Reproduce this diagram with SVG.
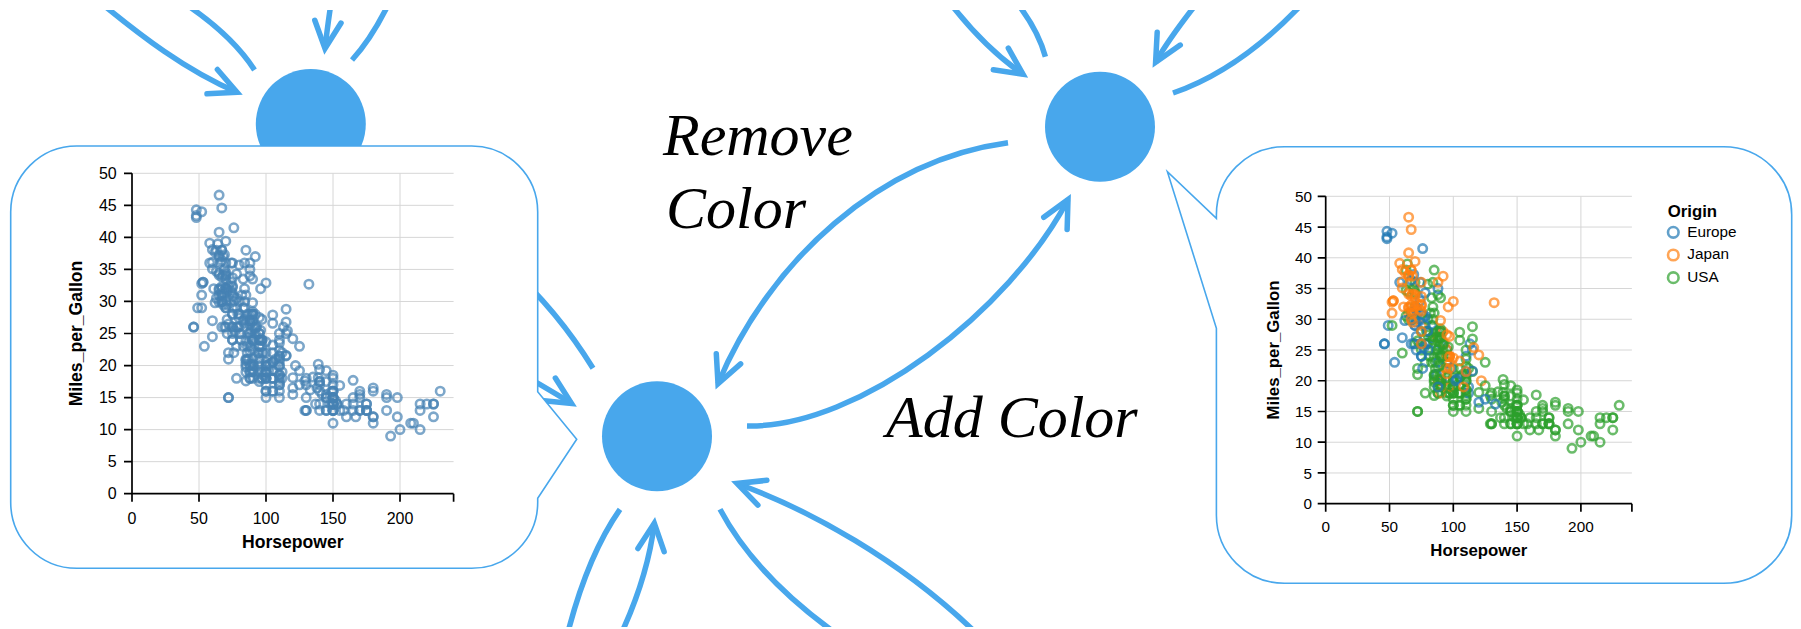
<svg xmlns="http://www.w3.org/2000/svg" width="1801" height="629" viewBox="0 0 1801 629">
<style>
.conn{fill:none;stroke:#48a7ec;stroke-width:5.5}
.arr{marker-end:url(#ah)}
.node{fill:#48a7ec}
.bubble{fill:#fff;stroke:#48a7ec;stroke-width:1.6}
.grid{fill:none;stroke:#d6d6d6;stroke-width:1}
.axis{fill:none;stroke:#000;stroke-width:1.7}
.lbl{font-family:"Liberation Sans",Arial,sans-serif;font-size:16px;fill:#000}
.lbl2{font-family:"Liberation Sans",Arial,sans-serif;font-size:15.3px;fill:#000}
.ttl{font-family:"Liberation Sans",Arial,sans-serif;font-size:17.6px;font-weight:bold;fill:#000}
.ttl2{font-family:"Liberation Sans",Arial,sans-serif;font-size:16.8px;font-weight:bold;fill:#000}
.big{font-family:"Liberation Serif","Times New Roman",serif;font-style:italic;font-size:60px;fill:#000}
.pts{fill:none;stroke-width:2.6;stroke-opacity:.7}
</style>
<defs>
<marker id="ah" markerUnits="userSpaceOnUse" orient="auto" overflow="visible" markerWidth="1" markerHeight="1" refX="0" refY="0">
<path d="M-27,-13.2 L0,0 L-27,13.2" fill="none" stroke="#48a7ec" stroke-width="5.5" stroke-linecap="round" stroke-linejoin="miter"/>
</marker>
<clipPath id="clipv"><rect x="0" y="10" width="1801" height="617"/></clipPath>
<g id="eua">
<circle cx="46%" cy="-26%" r="4.2"/><circle cx="87%" cy="-25%" r="4.2"/><circle cx="90%" cy="-24%" r="4.2"/><circle cx="95%" cy="-25%" r="4.2"/><circle cx="113%" cy="-26%" r="4.2"/><circle cx="90%" cy="-28%" r="4.2"/><circle cx="70%" cy="-30%" r="4.2"/><circle cx="76%" cy="-30%" r="4.2"/><circle cx="60%" cy="-27%" r="4.2"/><circle cx="54%" cy="-23%" r="4.2"/><circle cx="112%" cy="-18%" r="4.2"/><circle cx="76%" cy="-22%" r="4.2"/><circle cx="87%" cy="-21%" r="4.2"/><circle cx="69%" cy="-26%" r="4.2"/><circle cx="46%" cy="-26%" r="4.2"/><circle cx="90%" cy="-26%" r="4.2"/><circle cx="49%" cy="-29%" r="4.2"/><circle cx="75%" cy="-24%" r="4.2"/><circle cx="91%" cy="-20%" r="4.2"/><circle cx="112%" cy="-19%" r="4.2"/><circle cx="110%" cy="-24%" r="4.2"/><circle cx="83%" cy="-29%" r="4.2"/><circle cx="67%" cy="-26%" r="4.2"/><circle cx="78%" cy="-26%" r="4.2"/><circle cx="75%" cy="-24%" r="4.2"/><circle cx="75%" cy="-26%" r="4.2"/><circle cx="67%" cy="-31%" r="4.2"/><circle cx="71%" cy="-25%" r="4.2"/><circle cx="70%" cy="-29%" r="4.2"/><circle cx="95%" cy="-23%" r="4.2"/><circle cx="88%" cy="-23%" r="4.2"/><circle cx="98%" cy="-22%" r="4.2"/><circle cx="115%" cy="-25%" r="4.2"/><circle cx="86%" cy="-28%" r="4.2"/><circle cx="81%" cy="-25%" r="4.2"/><circle cx="83%" cy="-27%" r="4.2"/>
</g>
<g id="eub">
<circle cx="70%" cy="-29%" r="4.2"/><circle cx="71%" cy="-29.5%" r="4.2"/><circle cx="102%" cy="-20%" r="4.2"/><circle cx="88%" cy="-19%" r="4.2"/><circle cx="120%" cy="-16.5%" r="4.2"/><circle cx="58%" cy="-36%" r="4.2"/><circle cx="78%" cy="-29%" r="4.2"/><circle cx="78%" cy="-30.5%" r="4.2"/><circle cx="110%" cy="-21.5%" r="4.2"/><circle cx="48%" cy="-43.1%" r="4.2"/><circle cx="103%" cy="-20.3%" r="4.2"/><circle cx="125%" cy="-17%" r="4.2"/><circle cx="115%" cy="-21.6%" r="4.2"/><circle cx="133%" cy="-16.2%" r="4.2"/><circle cx="71%" cy="-31.5%" r="4.2"/><circle cx="71%" cy="-31.9%" r="4.2"/><circle cx="77%" cy="-25.4%" r="4.2"/><circle cx="71%" cy="-27.2%" r="4.2"/><circle cx="69%" cy="-37.3%" r="4.2"/><circle cx="76%" cy="-41.5%" r="4.2"/><circle cx="78%" cy="-34.3%" r="4.2"/><circle cx="48%" cy="-44.3%" r="4.2"/><circle cx="48%" cy="-43.4%" r="4.2"/><circle cx="67%" cy="-36.4%" r="4.2"/><circle cx="67%" cy="-30%" r="4.2"/><circle cx="62%" cy="-29.8%" r="4.2"/><circle cx="88%" cy="-35%" r="4.2"/><circle cx="74%" cy="-33%" r="4.2"/><circle cx="80%" cy="-28.1%" r="4.2"/><circle cx="76%" cy="-30.7%" r="4.2"/><circle cx="74%" cy="-36%" r="4.2"/><circle cx="52%" cy="-44%" r="4.2"/>
</g>
<g id="jpa">
<circle cx="95%" cy="-24%" r="4.2"/><circle cx="88%" cy="-27%" r="4.2"/><circle cx="88%" cy="-27%" r="4.2"/><circle cx="95%" cy="-25%" r="4.2"/><circle cx="65%" cy="-31%" r="4.2"/><circle cx="69%" cy="-35%" r="4.2"/><circle cx="95%" cy="-24%" r="4.2"/><circle cx="97%" cy="-19%" r="4.2"/><circle cx="92%" cy="-28%" r="4.2"/><circle cx="97%" cy="-23%" r="4.2"/><circle cx="88%" cy="-27%" r="4.2"/><circle cx="88%" cy="-20%" r="4.2"/><circle cx="94%" cy="-22%" r="4.2"/><circle cx="90%" cy="-18%" r="4.2"/><circle cx="122%" cy="-20%" r="4.2"/><circle cx="67%" cy="-31%" r="4.2"/><circle cx="65%" cy="-32%" r="4.2"/><circle cx="52%" cy="-31%" r="4.2"/><circle cx="61%" cy="-32%" r="4.2"/><circle cx="97%" cy="-24%" r="4.2"/><circle cx="93%" cy="-26%" r="4.2"/><circle cx="75%" cy="-29%" r="4.2"/><circle cx="96%" cy="-24%" r="4.2"/><circle cx="97%" cy="-24%" r="4.2"/><circle cx="53%" cy="-33%" r="4.2"/>
</g>
<g id="jpb">
<circle cx="53%" cy="-33%" r="4.2"/><circle cx="70%" cy="-32%" r="4.2"/><circle cx="75%" cy="-28%" r="4.2"/><circle cx="108%" cy="-19%" r="4.2"/><circle cx="68%" cy="-31.5%" r="4.2"/><circle cx="70%" cy="-33.5%" r="4.2"/><circle cx="75%" cy="-26%" r="4.2"/><circle cx="67%" cy="-30%" r="4.2"/><circle cx="97%" cy="-22%" r="4.2"/><circle cx="110%" cy="-21.5%" r="4.2"/><circle cx="52%" cy="-32.8%" r="4.2"/><circle cx="70%" cy="-39.4%" r="4.2"/><circle cx="60%" cy="-36.1%" r="4.2"/><circle cx="95%" cy="-27.5%" r="4.2"/><circle cx="97%" cy="-27.2%" r="4.2"/><circle cx="95%" cy="-21.1%" r="4.2"/><circle cx="105%" cy="-23.2%" r="4.2"/><circle cx="97%" cy="-23.9%" r="4.2"/><circle cx="68%" cy="-29.5%" r="4.2"/><circle cx="65%" cy="-34.1%" r="4.2"/><circle cx="65%" cy="-31.8%" r="4.2"/><circle cx="60%" cy="-38.1%" r="4.2"/><circle cx="65%" cy="-37.2%" r="4.2"/><circle cx="90%" cy="-29.8%" r="4.2"/><circle cx="75%" cy="-31.3%" r="4.2"/><circle cx="92%" cy="-37%" r="4.2"/><circle cx="75%" cy="-32.2%" r="4.2"/><circle cx="65%" cy="-46.6%" r="4.2"/><circle cx="65%" cy="-40.8%" r="4.2"/><circle cx="67%" cy="-44.6%" r="4.2"/><circle cx="67%" cy="-33.8%" r="4.2"/><circle cx="132%" cy="-32.7%" r="4.2"/><circle cx="100%" cy="-23.7%" r="4.2"/><circle cx="72%" cy="-32.4%" r="4.2"/><circle cx="58%" cy="-39.1%" r="4.2"/><circle cx="60%" cy="-35.1%" r="4.2"/><circle cx="67%" cy="-32.3%" r="4.2"/><circle cx="65%" cy="-37%" r="4.2"/><circle cx="62%" cy="-37.7%" r="4.2"/><circle cx="68%" cy="-34.1%" r="4.2"/><circle cx="75%" cy="-33.7%" r="4.2"/><circle cx="75%" cy="-32.4%" r="4.2"/><circle cx="100%" cy="-32.9%" r="4.2"/><circle cx="74%" cy="-31.6%" r="4.2"/><circle cx="116%" cy="-25.4%" r="4.2"/><circle cx="120%" cy="-24.2%" r="4.2"/><circle cx="68%" cy="-37%" r="4.2"/><circle cx="68%" cy="-31%" r="4.2"/><circle cx="88%" cy="-36%" r="4.2"/><circle cx="75%" cy="-36%" r="4.2"/><circle cx="70%" cy="-34%" r="4.2"/><circle cx="67%" cy="-38%" r="4.2"/><circle cx="67%" cy="-32%" r="4.2"/><circle cx="67%" cy="-38%" r="4.2"/><circle cx="96%" cy="-32%" r="4.2"/>
</g>
<g id="usa">
<circle cx="130%" cy="-18%" r="4.2"/><circle cx="165%" cy="-15%" r="4.2"/><circle cx="150%" cy="-18%" r="4.2"/><circle cx="150%" cy="-16%" r="4.2"/><circle cx="140%" cy="-17%" r="4.2"/><circle cx="198%" cy="-15%" r="4.2"/><circle cx="220%" cy="-14%" r="4.2"/><circle cx="215%" cy="-14%" r="4.2"/><circle cx="225%" cy="-14%" r="4.2"/><circle cx="190%" cy="-15%" r="4.2"/><circle cx="170%" cy="-15%" r="4.2"/><circle cx="160%" cy="-14%" r="4.2"/><circle cx="150%" cy="-15%" r="4.2"/><circle cx="225%" cy="-14%" r="4.2"/><circle cx="95%" cy="-22%" r="4.2"/><circle cx="97%" cy="-18%" r="4.2"/><circle cx="85%" cy="-21%" r="4.2"/><circle cx="90%" cy="-21%" r="4.2"/><circle cx="215%" cy="-10%" r="4.2"/><circle cx="200%" cy="-10%" r="4.2"/><circle cx="210%" cy="-11%" r="4.2"/><circle cx="193%" cy="-9%" r="4.2"/><circle cx="90%" cy="-28%" r="4.2"/><circle cx="100%" cy="-19%" r="4.2"/><circle cx="105%" cy="-16%" r="4.2"/><circle cx="100%" cy="-17%" r="4.2"/><circle cx="88%" cy="-19%" r="4.2"/><circle cx="100%" cy="-18%" r="4.2"/><circle cx="165%" cy="-14%" r="4.2"/><circle cx="175%" cy="-14%" r="4.2"/><circle cx="153%" cy="-14%" r="4.2"/><circle cx="150%" cy="-14%" r="4.2"/><circle cx="180%" cy="-12%" r="4.2"/><circle cx="170%" cy="-13%" r="4.2"/><circle cx="175%" cy="-13%" r="4.2"/><circle cx="110%" cy="-18%" r="4.2"/><circle cx="72%" cy="-22%" r="4.2"/><circle cx="100%" cy="-19%" r="4.2"/><circle cx="88%" cy="-18%" r="4.2"/><circle cx="86%" cy="-23%" r="4.2"/><circle cx="70%" cy="-26%" r="4.2"/><circle cx="80%" cy="-25%" r="4.2"/><circle cx="90%" cy="-20%" r="4.2"/><circle cx="86%" cy="-21%" r="4.2"/><circle cx="165%" cy="-13%" r="4.2"/><circle cx="175%" cy="-14%" r="4.2"/><circle cx="150%" cy="-15%" r="4.2"/><circle cx="153%" cy="-14%" r="4.2"/><circle cx="150%" cy="-17%" r="4.2"/><circle cx="208%" cy="-11%" r="4.2"/><circle cx="155%" cy="-13%" r="4.2"/><circle cx="160%" cy="-12%" r="4.2"/><circle cx="190%" cy="-13%" r="4.2"/><circle cx="150%" cy="-15%" r="4.2"/><circle cx="130%" cy="-13%" r="4.2"/><circle cx="140%" cy="-13%" r="4.2"/><circle cx="150%" cy="-14%" r="4.2"/><circle cx="86%" cy="-22%" r="4.2"/><circle cx="80%" cy="-28%" r="4.2"/><circle cx="175%" cy="-13%" r="4.2"/><circle cx="150%" cy="-14%" r="4.2"/><circle cx="145%" cy="-13%" r="4.2"/><circle cx="137%" cy="-14%" r="4.2"/><circle cx="150%" cy="-15%" r="4.2"/><circle cx="198%" cy="-12%" r="4.2"/><circle cx="150%" cy="-13%" r="4.2"/><circle cx="158%" cy="-13%" r="4.2"/><circle cx="150%" cy="-14%" r="4.2"/><circle cx="215%" cy="-13%" r="4.2"/><circle cx="225%" cy="-12%" r="4.2"/><circle cx="175%" cy="-13%" r="4.2"/><circle cx="105%" cy="-18%" r="4.2"/><circle cx="100%" cy="-16%" r="4.2"/><circle cx="100%" cy="-18%" r="4.2"/><circle cx="88%" cy="-18%" r="4.2"/><circle cx="95%" cy="-23%" r="4.2"/><circle cx="150%" cy="-11%" r="4.2"/><circle cx="167%" cy="-12%" r="4.2"/><circle cx="170%" cy="-13%" r="4.2"/><circle cx="180%" cy="-12%" r="4.2"/><circle cx="100%" cy="-18%" r="4.2"/><circle cx="72%" cy="-21%" r="4.2"/><circle cx="85%" cy="-19%" r="4.2"/><circle cx="107%" cy="-21%" r="4.2"/><circle cx="145%" cy="-15%" r="4.2"/><circle cx="230%" cy="-16%" r="4.2"/><circle cx="150%" cy="-15%" r="4.2"/><circle cx="180%" cy="-11%" r="4.2"/><circle cx="95%" cy="-20%" r="4.2"/><circle cx="100%" cy="-19%" r="4.2"/><circle cx="100%" cy="-15%" r="4.2"/><circle cx="80%" cy="-26%" r="4.2"/><circle cx="75%" cy="-25%" r="4.2"/><circle cx="100%" cy="-16%" r="4.2"/><circle cx="110%" cy="-16%" r="4.2"/><circle cx="105%" cy="-18%" r="4.2"/><circle cx="140%" cy="-16%" r="4.2"/><circle cx="150%" cy="-13%" r="4.2"/><circle cx="150%" cy="-14%" r="4.2"/><circle cx="140%" cy="-14%" r="4.2"/><circle cx="150%" cy="-14%" r="4.2"/><circle cx="75%" cy="-28%" r="4.2"/><circle cx="95%" cy="-19%" r="4.2"/><circle cx="105%" cy="-18%" r="4.2"/><circle cx="72%" cy="-15%" r="4.2"/><circle cx="72%" cy="-15%" r="4.2"/><circle cx="170%" cy="-16%" r="4.2"/><circle cx="145%" cy="-15%" r="4.2"/><circle cx="150%" cy="-16%" r="4.2"/><circle cx="148%" cy="-14%" r="4.2"/><circle cx="110%" cy="-17%" r="4.2"/><circle cx="105%" cy="-16%" r="4.2"/><circle cx="110%" cy="-15%" r="4.2"/><circle cx="95%" cy="-18%" r="4.2"/><circle cx="110%" cy="-21%" r="4.2"/><circle cx="110%" cy="-20%" r="4.2"/><circle cx="129%" cy="-13%" r="4.2"/><circle cx="83%" cy="-23%" r="4.2"/><circle cx="100%" cy="-20%" r="4.2"/><circle cx="78%" cy="-23%" r="4.2"/><circle cx="97%" cy="-18%" r="4.2"/><circle cx="90%" cy="-19%" r="4.2"/><circle cx="92%" cy="-25%" r="4.2"/><circle cx="79%" cy="-26%" r="4.2"/><circle cx="140%" cy="-17.5%" r="4.2"/><circle cx="150%" cy="-16%" r="4.2"/><circle cx="120%" cy="-15.5%" r="4.2"/><circle cx="152%" cy="-14.5%" r="4.2"/><circle cx="100%" cy="-22%" r="4.2"/><circle cx="105%" cy="-22%" r="4.2"/><circle cx="81%" cy="-24%" r="4.2"/>
</g>
<g id="usb">
<circle cx="90%" cy="-22.5%" r="4.2"/><circle cx="52%" cy="-29%" r="4.2"/><circle cx="60%" cy="-24.5%" r="4.2"/><circle cx="100%" cy="-20%" r="4.2"/><circle cx="78%" cy="-18%" r="4.2"/><circle cx="110%" cy="-18.5%" r="4.2"/><circle cx="95%" cy="-17.5%" r="4.2"/><circle cx="72%" cy="-26.5%" r="4.2"/><circle cx="150%" cy="-13%" r="4.2"/><circle cx="180%" cy="-16.5%" r="4.2"/><circle cx="145%" cy="-13%" r="4.2"/><circle cx="130%" cy="-13%" r="4.2"/><circle cx="150%" cy="-13%" r="4.2"/><circle cx="80%" cy="-30%" r="4.2"/><circle cx="96%" cy="-25.5%" r="4.2"/><circle cx="145%" cy="-17.5%" r="4.2"/><circle cx="110%" cy="-17%" r="4.2"/><circle cx="145%" cy="-15.5%" r="4.2"/><circle cx="130%" cy="-15%" r="4.2"/><circle cx="110%" cy="-17.5%" r="4.2"/><circle cx="105%" cy="-20.5%" r="4.2"/><circle cx="100%" cy="-19%" r="4.2"/><circle cx="98%" cy="-18.5%" r="4.2"/><circle cx="180%" cy="-16%" r="4.2"/><circle cx="170%" cy="-15.5%" r="4.2"/><circle cx="190%" cy="-15.5%" r="4.2"/><circle cx="149%" cy="-16%" r="4.2"/><circle cx="88%" cy="-24.5%" r="4.2"/><circle cx="89%" cy="-25.5%" r="4.2"/><circle cx="63%" cy="-30.5%" r="4.2"/><circle cx="83%" cy="-33.5%" r="4.2"/><circle cx="66%" cy="-36.1%" r="4.2"/><circle cx="110%" cy="-19.9%" r="4.2"/><circle cx="140%" cy="-19.4%" r="4.2"/><circle cx="139%" cy="-20.2%" r="4.2"/><circle cx="105%" cy="-19.2%" r="4.2"/><circle cx="95%" cy="-20.5%" r="4.2"/><circle cx="85%" cy="-20.2%" r="4.2"/><circle cx="88%" cy="-25.1%" r="4.2"/><circle cx="100%" cy="-20.5%" r="4.2"/><circle cx="90%" cy="-19.4%" r="4.2"/><circle cx="105%" cy="-20.6%" r="4.2"/><circle cx="85%" cy="-20.8%" r="4.2"/><circle cx="110%" cy="-18.6%" r="4.2"/><circle cx="120%" cy="-18.1%" r="4.2"/><circle cx="145%" cy="-19.2%" r="4.2"/><circle cx="165%" cy="-17.7%" r="4.2"/><circle cx="139%" cy="-18.1%" r="4.2"/><circle cx="140%" cy="-17.5%" r="4.2"/><circle cx="68%" cy="-30%" r="4.2"/><circle cx="75%" cy="-30.9%" r="4.2"/><circle cx="85%" cy="-23.8%" r="4.2"/><circle cx="115%" cy="-21.5%" r="4.2"/><circle cx="85%" cy="-19.8%" r="4.2"/><circle cx="88%" cy="-22.3%" r="4.2"/><circle cx="90%" cy="-20.2%" r="4.2"/><circle cx="110%" cy="-20.6%" r="4.2"/><circle cx="130%" cy="-17%" r="4.2"/><circle cx="129%" cy="-17.6%" r="4.2"/><circle cx="138%" cy="-16.5%" r="4.2"/><circle cx="135%" cy="-18.2%" r="4.2"/><circle cx="155%" cy="-16.9%" r="4.2"/><circle cx="142%" cy="-15.5%" r="4.2"/><circle cx="125%" cy="-19.2%" r="4.2"/><circle cx="150%" cy="-18.5%" r="4.2"/><circle cx="80%" cy="-35.7%" r="4.2"/><circle cx="80%" cy="-27.4%" r="4.2"/><circle cx="125%" cy="-23%" r="4.2"/><circle cx="90%" cy="-23.9%" r="4.2"/><circle cx="70%" cy="-34.2%" r="4.2"/><circle cx="70%" cy="-34.5%" r="4.2"/><circle cx="90%" cy="-28.4%" r="4.2"/><circle cx="115%" cy="-28.8%" r="4.2"/><circle cx="115%" cy="-26.8%" r="4.2"/><circle cx="90%" cy="-33.5%" r="4.2"/><circle cx="70%" cy="-32.1%" r="4.2"/><circle cx="90%" cy="-28%" r="4.2"/><circle cx="88%" cy="-26.4%" r="4.2"/><circle cx="90%" cy="-24.3%" r="4.2"/><circle cx="90%" cy="-19.1%" r="4.2"/><circle cx="105%" cy="-27.9%" r="4.2"/><circle cx="84%" cy="-27.2%" r="4.2"/><circle cx="84%" cy="-26.6%" r="4.2"/><circle cx="92%" cy="-25.8%" r="4.2"/><circle cx="110%" cy="-23.5%" r="4.2"/><circle cx="84%" cy="-30%" r="4.2"/><circle cx="64%" cy="-39%" r="4.2"/><circle cx="63%" cy="-34.7%" r="4.2"/><circle cx="65%" cy="-34.4%" r="4.2"/><circle cx="65%" cy="-29.9%" r="4.2"/><circle cx="110%" cy="-22.4%" r="4.2"/><circle cx="105%" cy="-26.6%" r="4.2"/><circle cx="88%" cy="-20.2%" r="4.2"/><circle cx="85%" cy="-17.6%" r="4.2"/><circle cx="88%" cy="-28%" r="4.2"/><circle cx="88%" cy="-27%" r="4.2"/><circle cx="88%" cy="-34%" r="4.2"/><circle cx="85%" cy="-31%" r="4.2"/><circle cx="84%" cy="-29%" r="4.2"/><circle cx="90%" cy="-27%" r="4.2"/><circle cx="92%" cy="-24%" r="4.2"/><circle cx="63%" cy="-38%" r="4.2"/><circle cx="70%" cy="-36%" r="4.2"/><circle cx="110%" cy="-25%" r="4.2"/><circle cx="85%" cy="-38%" r="4.2"/><circle cx="92%" cy="-26%" r="4.2"/><circle cx="112%" cy="-22%" r="4.2"/><circle cx="84%" cy="-36%" r="4.2"/><circle cx="90%" cy="-27%" r="4.2"/><circle cx="86%" cy="-27%" r="4.2"/><circle cx="84%" cy="-32%" r="4.2"/><circle cx="79%" cy="-28%" r="4.2"/><circle cx="82%" cy="-31%" r="4.2"/>
</g>
</defs>

<g id="connectors" clip-path="url(#clipv)">
<path class="conn arr" d="M101,3 C140,35 185,70 237,92.3"/>
<path class="conn" d="M184,3 Q232,35 254.5,70"/>
<path class="conn arr" d="M331,3 Q327,30 325,48.5"/>
<path class="conn" d="M389,3 Q372,38 352,60"/>
<path class="conn" d="M470,235 Q545,290 593,368.3"/>
<path class="conn arr" d="M470,345 Q530,378 571.5,403.4"/>
<path class="conn" d="M568,632 Q588,555 620,509.3"/>
<path class="conn arr" d="M622,632 Q648,575 654.3,523.3"/>
<path class="conn" d="M720,509.3 Q755,575 834,632"/>
<path class="conn arr" d="M975,632 C900,560 810,510 737,483.5"/>
<path class="conn arr" d="M1008,142.7 C880,160 770,260 718,383.7"/>
<path class="conn arr" d="M747,426 C860,428 1010,310 1068,199.5"/>
<path class="conn arr" d="M950,3 Q985,48 1023,74.3"/>
<path class="conn" d="M1017,3 Q1038,30 1045.4,56.7"/>
<path class="conn arr" d="M1197,3 Q1168,40 1155.6,62.3"/>
<path class="conn" d="M1303,3 Q1240,70 1173,93"/>
</g>

<g id="node-top-left"><circle class="node" cx="310.8" cy="124" r="55"/></g>
<g id="node-right"><circle class="node" cx="1100" cy="126.8" r="55"/></g>
<g id="node-bottom"><circle class="node" cx="657" cy="436.3" r="55"/></g>

<g id="label-remove-color">
<text class="big" x="663" y="155">Remove</text>
<text class="big" x="666" y="228.3">Color</text>
</g>
<g id="label-add-color"><text class="big" x="886" y="436.7">Add Color</text></g>

<g id="callout-left">
<path class="bubble" d="M76.7,146 H471.7 A66,66 0 0 1 537.7,212 V391.7 L576.7,439.3 L537.7,498.3 V502.3 A66,66 0 0 1 471.7,568.3 H76.7 A66,66 0 0 1 10.7,502.3 V212 A66,66 0 0 1 76.7,146 Z"/>
<g transform="translate(132,493.7)">
<path class="grid" d="M0,-32.04H321.6M0,-64.08H321.6M0,-96.12H321.6M0,-128.16H321.6M0,-160.2H321.6M0,-192.24H321.6M0,-224.28H321.6M0,-256.32H321.6M0,-288.36H321.6M0,-320.4H321.6M67,0V-320.4M134,0V-320.4M201,0V-320.4M268,0V-320.4"/>
<svg x="0" y="0" width="134" height="640.8" overflow="visible">
<g class="pts" stroke="#4682b4"><use href="#usa"/><use href="#eua"/><use href="#jpa"/><use href="#usb"/><use href="#eub"/><use href="#jpb"/></g>
</svg>
<path class="axis" d="M0,-320.4V0H321.6M-8,0H0M-8,-32.04H0M-8,-64.08H0M-8,-96.12H0M-8,-128.16H0M-8,-160.2H0M-8,-192.24H0M-8,-224.28H0M-8,-256.32H0M-8,-288.36H0M-8,-320.4H0M0,0V8M67,0V8M134,0V8M201,0V8M268,0V8M321.6,0V8"/>
<g class="lbl" text-anchor="end">
<text x="-15.3" y="5.7">0</text><text x="-15.3" y="-26.3">5</text><text x="-15.3" y="-58.4">10</text><text x="-15.3" y="-90.4">15</text><text x="-15.3" y="-122.5">20</text><text x="-15.3" y="-154.5">25</text><text x="-15.3" y="-186.5">30</text><text x="-15.3" y="-218.6">35</text><text x="-15.3" y="-250.6">40</text><text x="-15.3" y="-282.7">45</text><text x="-15.3" y="-314.7">50</text>
</g>
<g class="lbl" text-anchor="middle">
<text x="0" y="30">0</text><text x="67" y="30">50</text><text x="134" y="30">100</text><text x="201" y="30">150</text><text x="268" y="30">200</text>
</g>
<text class="ttl" text-anchor="middle" x="160.8" y="54.6">Horsepower</text>
<text class="ttl" text-anchor="middle" transform="translate(-49.7,-160.2) rotate(-90)">Miles_per_Gallon</text>
</g>
</g>

<g id="callout-right">
<path class="bubble" d="M1284.4,146.7 H1723.7 A68,68 0 0 1 1791.7,214.7 V515.3 A68,68 0 0 1 1723.7,583.3 H1284.4 A68,68 0 0 1 1216.4,515.3 V328.3 L1167.4,171.7 L1216.4,218.3 V214.7 A68,68 0 0 1 1284.4,146.7 Z"/>
<g transform="translate(1325.7,503.7)">
<path class="grid" d="M0,-30.74H306.2M0,-61.48H306.2M0,-92.22H306.2M0,-122.96H306.2M0,-153.7H306.2M0,-184.44H306.2M0,-215.18H306.2M0,-245.92H306.2M0,-276.66H306.2M0,-307.4H306.2M63.8,0V-307.4M127.6,0V-307.4M191.4,0V-307.4M255.2,0V-307.4"/>
<svg x="0" y="0" width="127.6" height="614.8" overflow="visible">
<g class="pts">
<use href="#usa" stroke="#2ca02c"/><use href="#eua" stroke="#1f77b4"/><use href="#jpa" stroke="#ff7f0e"/><use href="#usb" stroke="#2ca02c"/><use href="#eub" stroke="#1f77b4"/><use href="#jpb" stroke="#ff7f0e"/>
</g>
</svg>
<path class="axis" d="M0,-307.4V0H306.2M-8,0H0M-8,-30.74H0M-8,-61.48H0M-8,-92.22H0M-8,-122.96H0M-8,-153.7H0M-8,-184.44H0M-8,-215.18H0M-8,-245.92H0M-8,-276.66H0M-8,-307.4H0M0,0V8M63.8,0V8M127.6,0V8M191.4,0V8M255.2,0V8M306.2,0V8"/>
<g class="lbl2" text-anchor="end">
<text x="-13.8" y="5.5">0</text><text x="-13.8" y="-25.2">5</text><text x="-13.8" y="-56">10</text><text x="-13.8" y="-86.7">15</text><text x="-13.8" y="-117.5">20</text><text x="-13.8" y="-148.2">25</text><text x="-13.8" y="-178.9">30</text><text x="-13.8" y="-209.7">35</text><text x="-13.8" y="-240.4">40</text><text x="-13.8" y="-271.2">45</text><text x="-13.8" y="-301.9">50</text>
</g>
<g class="lbl2" text-anchor="middle">
<text x="0" y="28.8">0</text><text x="63.8" y="28.8">50</text><text x="127.6" y="28.8">100</text><text x="191.4" y="28.8">150</text><text x="255.2" y="28.8">200</text>
</g>
<text class="ttl2" text-anchor="middle" x="153.1" y="52.5">Horsepower</text>
<text class="ttl2" text-anchor="middle" transform="translate(-47.1,-153.7) rotate(-90)">Miles_per_Gallon</text>
</g>
<g id="legend">
<text class="ttl2" x="1667.7" y="216.7">Origin</text>
<g class="pts">
<circle cx="1673.3" cy="232.3" r="5.3" stroke="#1f77b4"/>
<circle cx="1673.3" cy="255" r="5.3" stroke="#ff7f0e"/>
<circle cx="1673.3" cy="277.7" r="5.3" stroke="#2ca02c"/>
</g>
<g class="lbl2">
<text x="1687.3" y="236.7">Europe</text>
<text x="1687.3" y="259.3">Japan</text>
<text x="1687.3" y="282.3">USA</text>
</g>
</g>
</g>
</svg>
